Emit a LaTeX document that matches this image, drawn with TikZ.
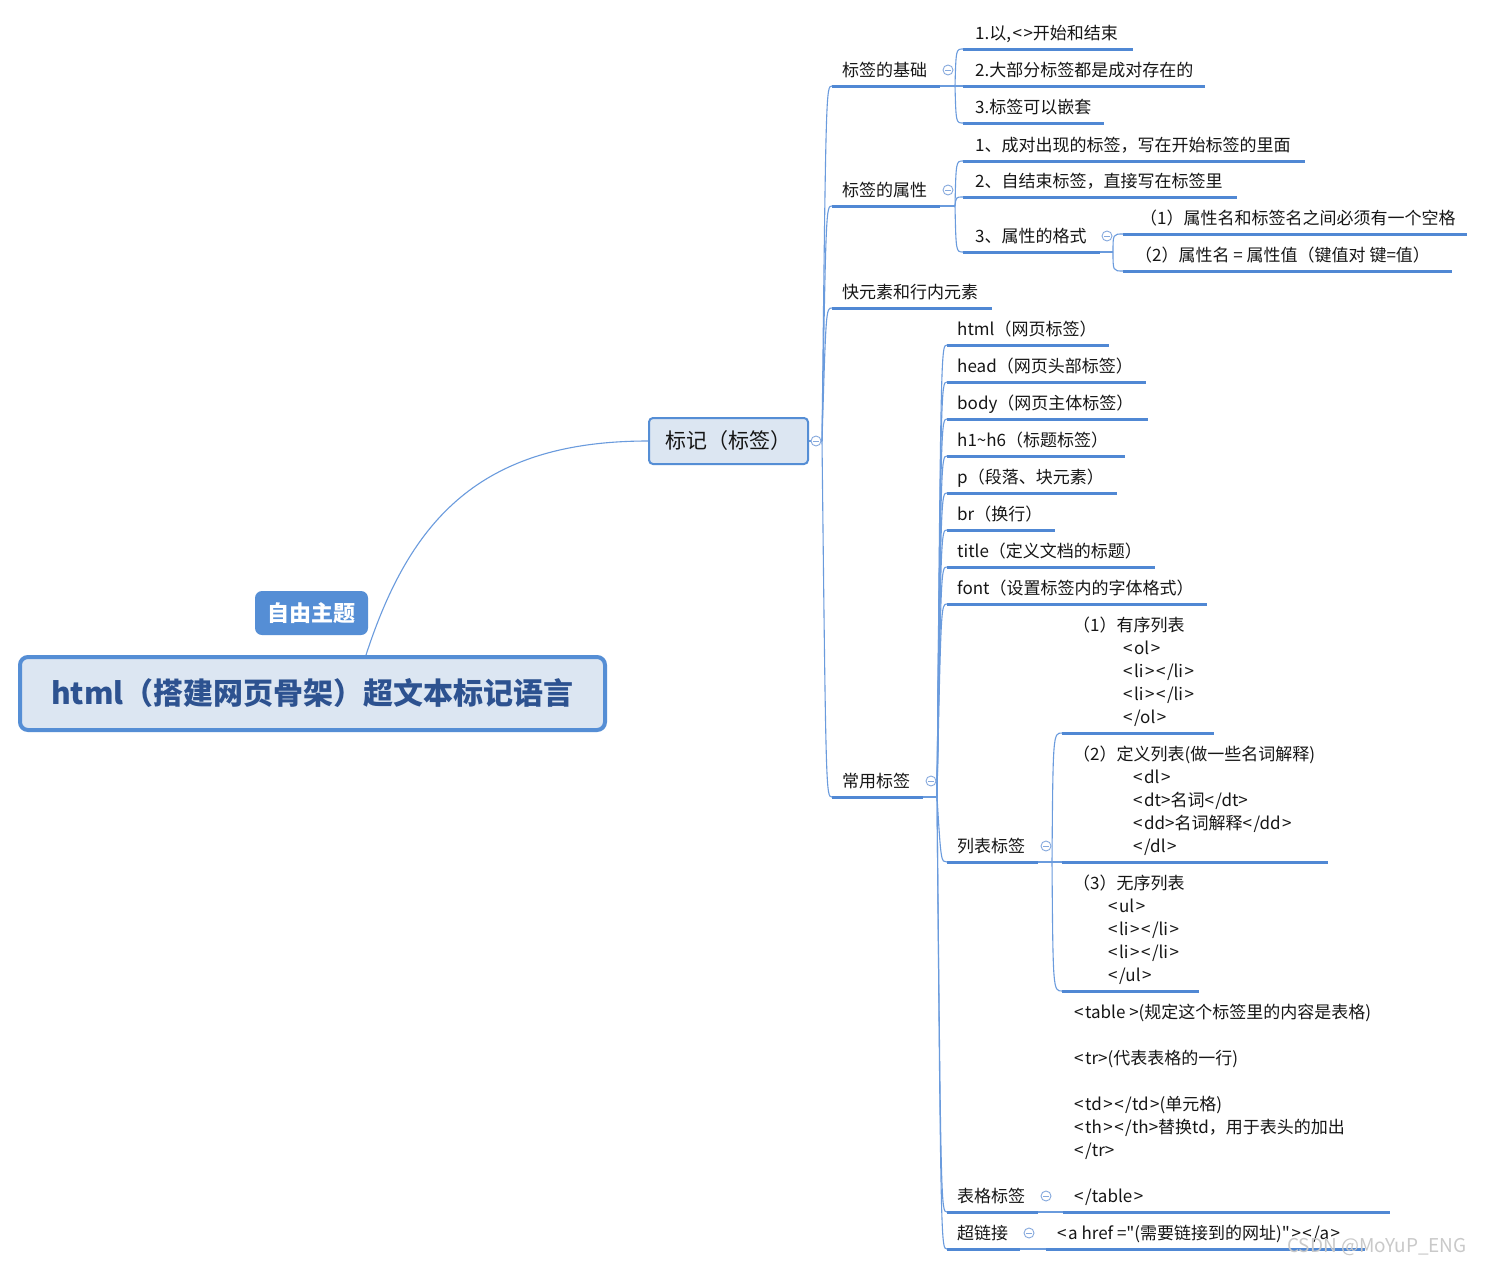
\documentclass[tikz,border=0pt]{standalone}
\usepackage{fontspec}
\setmainfont{Noto Sans CJK SC}[Ligatures=TeXOff]
\usetikzlibrary{calc}
\definecolor{ul}{HTML}{5088D4}
\definecolor{cn}{HTML}{6A9BDD}
\definecolor{boxfill}{HTML}{DCE6F2}
\definecolor{boxborder}{HTML}{558ED5}
\definecolor{roottext}{HTML}{2D5290}
\definecolor{txt}{HTML}{161616}
\definecolor{circ}{HTML}{86A9DD}
\definecolor{wm}{HTML}{C9C9C9}
\newcommand\mmfs[2]{\fontsize{#1}{#2}\selectfont}
\newcommand\mmbranch[3]{\draw[conn] (#1) .. controls ($(#1 |- #2)+(#3,0)$) .. (#2);}
\newcommand\mmtopic[6]{%
  \coordinate (#1-s) at (#2,#4);
  \coordinate (#1-e) at (#3,#4);
  \node[topic] (#1) at (#5,#4-10) {#6};
  \draw[uline] (#1-s) -- (#1-e);}
\newcommand\mmcollapse[2]{%
  \node[collapse] (#1) at (#2) {};
  \draw[draw=circ,line width=0.8pt] ($(#1.center)+(-2.8,0)$) -- ($(#1.center)+(2.8,0)$);}
\newcommand\mmsp{\hspace{1.5pt}}
\begin{document}
\begin{tikzpicture}[x=1pt,y=-1pt,
  uline/.style={draw=ul,line width=3pt},
  conn/.style={draw=cn,line width=1.1pt},
  topic/.style={anchor=base west,inner sep=0pt,text=txt,font=\mmfs{17}{23},align=left},
  collapse/.style={circle,draw=circ,fill=white,line width=0.9pt,minimum size=10pt,inner sep=0pt},
  rootbox/.style={draw=boxborder,fill=boxfill,line width=4pt,rounded corners=8pt,minimum width=585pt,minimum height=73pt,inner sep=0pt,text=roottext,font=\mmfs{30}{34}\bfseries},
  freebox/.style={fill=boxborder,rounded corners=7pt,minimum width=113pt,minimum height=44pt,inner sep=0pt,text=white,font=\mmfs{22}{26}\bfseries},
  mainbox/.style={draw=boxborder,fill=boxfill,line width=2pt,rounded corners=4pt,minimum width=159pt,minimum height=46pt,inner sep=0pt,text=txt,font=\mmfs{21}{24}}
]
\fill[white] (0,0) rectangle (1485,1266);
\useasboundingbox (0,0) rectangle (1485,1266);

% central and floating topics
\node[rootbox] (root) at (312.5,693.5) {html（搭建网页骨架）超文本标记语言};
\node[freebox] (free) at (311.5,613) {自由主题};
\node[mainbox] (biaoji) at (728.5,441) {标记（标签）};
\coordinate (rootj) at (366,655);
\draw[conn] (rootj) .. controls (410,520) and (480,441) .. (biaoji.west);
\coordinate (biaoji-j) at (822,441);
\draw[conn] (biaoji.east) -- (biaoji-j);

% level 1
\mmtopic{jichu}{832}{940}{86}{842}{标签的基础}
\mmtopic{shuxing}{832}{940}{206}{842}{标签的属性}
\mmtopic{kuai}{832}{992}{308}{842}{快元素和行内元素}
\mmtopic{changyong}{832}{923}{797}{842}{常用标签}
\foreach \c in {jichu,shuxing,kuai,changyong} {\mmbranch{biaoji-j}{\c-s}{4}}

% 标签的基础
\mmtopic{j1}{963}{1133}{49}{975}{1.以,\mmsp<\mmsp>开始和结束}
\mmtopic{j2}{963}{1205}{86}{975}{2.大部分标签都是成对存在的}
\mmtopic{j3}{963}{1104}{123}{975}{3.标签可以嵌套}
\coordinate (jichu-j) at (955,86);
\draw[conn] (jichu-e) -- (jichu-j);
\foreach \c in {j1,j2,j3} {\mmbranch{jichu-j}{\c-s}{1}}

% 标签的属性
\mmtopic{s1}{963}{1305}{161}{975}{1、成对出现的标签，写在开始标签的里面}
\mmtopic{s2}{963}{1237}{197}{975}{2、自结束标签，直接写在标签里}
\mmtopic{s3}{963}{1100}{252}{975}{3、属性的格式}
\coordinate (shuxing-j) at (955,206);
\draw[conn] (shuxing-e) -- (shuxing-j);
\foreach \c in {s1,s2,s3} {\mmbranch{shuxing-j}{\c-s}{1}}

% 属性的格式
\mmtopic{g1}{1123}{1467}{234}{1140}{（1）属性名和标签名之间必须有一个空格}
\mmtopic{g2}{1123}{1452}{271}{1135}{（2）属性名 = 属性值（键值对 键=值）}
\coordinate (s3-j) at (1113,252);
\draw[conn] (s3-e) -- (s3-j);
\foreach \c in {g1,g2} {\mmbranch{s3-j}{\c-s}{0}}

% 常用标签
\mmtopic{html}{947}{1109}{345}{957}{html（网页标签）}
\mmtopic{head}{947}{1146}{382}{957}{head（网页头部标签）}
\mmtopic{body}{947}{1148}{419}{957}{body（网页主体标签）}
\mmtopic{hx}{947}{1125}{456}{957}{h1\textasciitilde h6（标题标签）}
\mmtopic{p}{947}{1117}{493}{957}{p（段落、块元素）}
\mmtopic{br}{947}{1055}{530}{957}{br（换行）}
\mmtopic{title}{947}{1155}{567}{957}{title（定义文档的标题）}
\mmtopic{font}{947}{1207}{604}{957}{font（设置标签内的字体格式）}
\mmtopic{liebiao}{947}{1038}{862}{957}{列表标签}
\mmtopic{biaoge}{947}{1038}{1212}{957}{表格标签}
\mmtopic{chaolj}{947}{1020}{1249}{957}{超链接}
\coordinate (changyong-j) at (937,797);
\draw[conn] (changyong-e) -- (changyong-j);
\foreach \c in {html,head,body,hx,p,br,title,font,liebiao,biaoge,chaolj} {\mmbranch{changyong-j}{\c-s}{4}}

% 列表标签 (node base = last line baseline)
\coordinate (l1-s) at (1062,733); \coordinate (l1-e) at (1214,733);
\coordinate (l2-s) at (1062,862); \coordinate (l2-e) at (1328,862);
\coordinate (l3-s) at (1062,991); \coordinate (l3-e) at (1199,991);
\node[topic] (l1) at (1073,723.5) {（1）有序列表\\\hspace*{50pt}<\mmsp ol\mmsp>\\\hspace*{50pt}<\mmsp li\mmsp>\mmsp<\mmsp/li\mmsp>\\\hspace*{50pt}<\mmsp li\mmsp>\mmsp<\mmsp/li\mmsp>\\\hspace*{50pt}<\mmsp/ol\mmsp>};
\node[topic] (l2) at (1073,852.5) {（2）定义列表(做一些名词解释)\\\hspace*{60pt}<\mmsp dl\mmsp>\\\hspace*{60pt}<\mmsp dt>名词<\mmsp/dt>\\\hspace*{60pt}<\mmsp dd>名词解释<\mmsp/dd\mmsp>\\\hspace*{60pt}<\mmsp/dl\mmsp>};
\node[topic] (l3) at (1073,981.5) {（3）无序列表\\\hspace*{35pt}<\mmsp ul\mmsp>\\\hspace*{35pt}<\mmsp li\mmsp>\mmsp<\mmsp/li\mmsp>\\\hspace*{35pt}<\mmsp li\mmsp>\mmsp<\mmsp/li\mmsp>\\\hspace*{35pt}<\mmsp/ul\mmsp>};
\foreach \c in {l1,l2,l3} {\draw[uline] (\c-s) -- (\c-e);}
\coordinate (liebiao-j) at (1052,862);
\draw[conn] (liebiao-e) -- (liebiao-j);
\foreach \c in {l1,l2,l3} {\mmbranch{liebiao-j}{\c-s}{1}}

% 表格标签
\coordinate (tb-s) at (1063,1212); \coordinate (tb-e) at (1390,1212);
\node[topic] (tb) at (1074,1202.5) {<\mmsp table >(规定这个标签里的内容是表格)\\[23pt]<\mmsp tr>(代表表格的一行)\\[23pt]<\mmsp td\mmsp>\mmsp<\mmsp/td\mmsp>(单元格)\\<\mmsp th\mmsp>\mmsp<\mmsp/th>替换td，用于表头的加出\\<\mmsp/tr>\\[23pt]<\mmsp/table\mmsp>};
\draw[uline] (tb-s) -- (tb-e);
\coordinate (biaoge-j) at (1052,1212);
\draw[conn] (biaoge-e) -- (biaoge-j);
\mmbranch{biaoge-j}{tb-s}{0}

% 超链接
\mmtopic{ah}{1046}{1365}{1249}{1057}{<\mmsp a href ="(需要链接到的网址)"\mmsp>\mmsp<\mmsp/a\mmsp>}
\coordinate (chaolj-j) at (1036,1249);
\draw[conn] (chaolj-e) -- (chaolj-j);
\mmbranch{chaolj-j}{ah-s}{0}

% collapse markers
\mmcollapse{cb1}{816,441}
\mmcollapse{cb2}{948,70}
\mmcollapse{cb3}{948,190}
\mmcollapse{cb4}{1107,236}
\mmcollapse{cb5}{931,781}
\mmcollapse{cb6}{1046,846}
\mmcollapse{cb7}{1046,1196}
\mmcollapse{cb8}{1029,1233}

% watermark
\node[anchor=base west,inner sep=0pt,text=wm,font=\mmfs{19}{22}] (wmark) at (1287,1252) {CSDN @MoYuP\_ENG};
\end{tikzpicture}
\end{document}
